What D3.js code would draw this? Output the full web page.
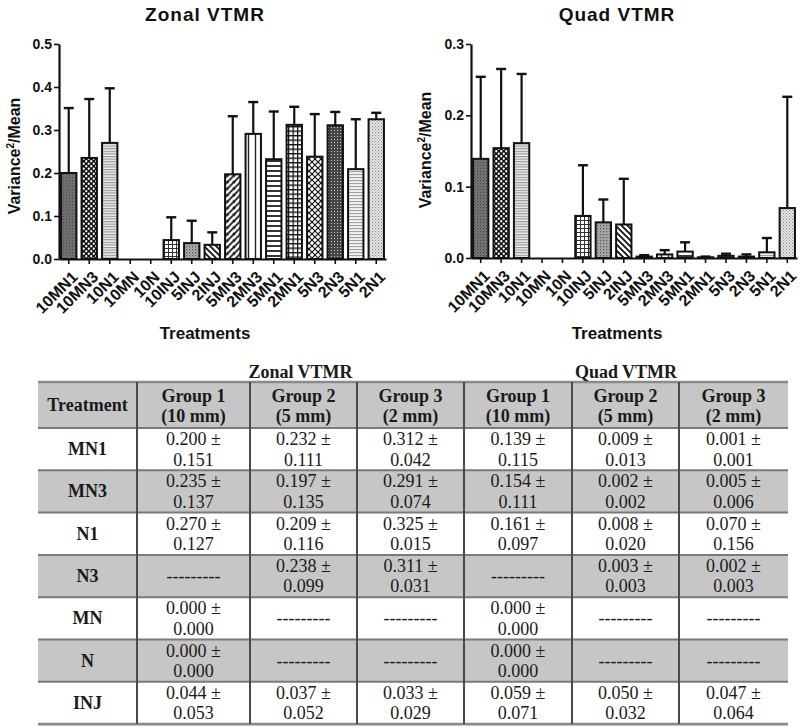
<!DOCTYPE html>
<html><head><meta charset="utf-8">
<script src="https://cdn.jsdelivr.net/npm/d3@7"></script>
<style>
html,body{margin:0;padding:0;background:#fff;}
svg{display:block;}
</style>
</head><body>
<svg id="c" width="800" height="728"></svg>
<script>
// ---------- DATA ----------
const categories = ["10MN1","10MN3","10N1","10MN","10N","10INJ","5INJ","2INJ","5MN3","2MN3","5MN1","2MN1","5N3","2N3","5N1","2N1"];
const zonalMean = [0.200,0.235,0.270,0.000,0.000,0.044,0.037,0.033,0.197,0.291,0.232,0.312,0.238,0.311,0.209,0.325];
const zonalSD   = [0.151,0.137,0.127,0.000,0.000,0.053,0.052,0.029,0.135,0.074,0.111,0.042,0.099,0.031,0.116,0.015];
const quadMean  = [0.139,0.154,0.161,0.000,0.000,0.059,0.050,0.047,0.002,0.005,0.009,0.001,0.003,0.002,0.008,0.070];
const quadSD    = [0.115,0.111,0.097,0.000,0.000,0.071,0.032,0.064,0.002,0.006,0.013,0.001,0.003,0.003,0.020,0.156];
const zonalTicks = [0.0,0.1,0.2,0.3,0.4,0.5];
const quadTicks  = [0.0,0.1,0.2,0.3];

const tableTreatments = ["MN1","MN3","N1","N3","MN","N","INJ"];
const tableGroups = [["Group 1","(10 mm)"],["Group 2","(5 mm)"],["Group 3","(2 mm)"]];
const zonalG1 = [["0.200","0.151"],["0.235","0.137"],["0.270","0.127"],null,["0.000","0.000"],["0.000","0.000"],["0.044","0.053"]];
const zonalG2 = [["0.232","0.111"],["0.197","0.135"],["0.209","0.116"],["0.238","0.099"],null,null,["0.037","0.052"]];
const zonalG3 = [["0.312","0.042"],["0.291","0.074"],["0.325","0.015"],["0.311","0.031"],null,null,["0.033","0.029"]];
const quadG1  = [["0.139","0.115"],["0.154","0.111"],["0.161","0.097"],null,["0.000","0.000"],["0.000","0.000"],["0.059","0.071"]];
const quadG2  = [["0.009","0.013"],["0.002","0.002"],["0.008","0.020"],["0.003","0.003"],null,null,["0.050","0.032"]];
const quadG3  = [["0.001","0.001"],["0.005","0.006"],["0.070","0.156"],["0.002","0.003"],null,null,["0.047","0.064"]];

// ---------- STYLE ----------
const patternFor = ["pDark","pChecker","pHLight","pNone","pNone","pGridSmall","pMottle","pDiagBack","pDiagFwd","pVert","pHBlack","pGrid","pDiamond","pDarkDots","pHLight2","pLightDots"];
const sans = "'Liberation Sans', Arial, sans-serif";
const serif = "'Liberation Serif', 'Times New Roman', serif";
const ink = "#111";

const svg = d3.select("#c");
const defs = svg.append("defs");

function pat(id, w, h, build){
  const p = defs.append("pattern").attr("id", id).attr("patternUnits","userSpaceOnUse").attr("width", w).attr("height", h);
  build(p);
}
pat("pNone",4,4,p=>p.append("rect").attr("width",4).attr("height",4).attr("fill","#fff"));
pat("pDark",3,3,p=>{p.append("rect").attr("width",3).attr("height",3).attr("fill","#7a7a7a");
  p.append("rect").attr("x",0).attr("y",0).attr("width",1.2).attr("height",1.2).attr("fill","#444");
  p.append("rect").attr("x",1.5).attr("y",1.5).attr("width",1.2).attr("height",1.2).attr("fill","#555");});
pat("pChecker",5,5,p=>{p.append("rect").attr("width",5).attr("height",5).attr("fill","#111");
  p.append("circle").attr("cx",1.25).attr("cy",1.25).attr("r",1.15).attr("fill","#fff");
  p.append("circle").attr("cx",3.75).attr("cy",3.75).attr("r",1.15).attr("fill","#fff");});
pat("pHLight",4,2.6,p=>{p.append("rect").attr("width",4).attr("height",2.6).attr("fill","#eee");
  p.append("line").attr("x1",0).attr("x2",4).attr("y1",0.6).attr("y2",0.6).attr("stroke","#888").attr("stroke-width",1);});
pat("pHLight2",4,3,p=>{p.append("rect").attr("width",4).attr("height",3).attr("fill","#f2f2f2");
  p.append("line").attr("x1",0).attr("x2",4).attr("y1",0.6).attr("y2",0.6).attr("stroke","#999").attr("stroke-width",1);});
pat("pGridSmall",4,4,p=>{p.append("rect").attr("width",4).attr("height",4).attr("fill","#fff");
  p.append("path").attr("d","M0,0.5H4M0.5,0V4").attr("stroke","#333").attr("stroke-width",1);});
pat("pMottle",3,3,p=>{p.append("rect").attr("width",3).attr("height",3).attr("fill","#b0b0b0");
  p.append("rect").attr("x",0).attr("y",0).attr("width",1.3).attr("height",1.3).attr("fill","#555");
  p.append("rect").attr("x",1.6).attr("y",1.6).attr("width",1).attr("height",1).attr("fill","#777");});
pat("pDiagBack",6,6,p=>{p.append("rect").attr("width",6).attr("height",6).attr("fill","#fff");
  p.append("path").attr("d","M-1,-1L7,7M-1,5L1,7M5,-1L7,1").attr("stroke","#111").attr("stroke-width",1.8);});
pat("pDiagFwd",6.5,6.5,p=>{p.append("rect").attr("width",6.5).attr("height",6.5).attr("fill","#fff");
  p.append("path").attr("d","M-1,7.5L7.5,-1M-1,1.5L1.5,-1M5,7.5L7.5,5").attr("stroke","#111").attr("stroke-width",1.8);});
pat("pVert",7,4,p=>{p.append("rect").attr("width",7).attr("height",4).attr("fill","#fff");
  p.append("line").attr("x1",3.5).attr("x2",3.5).attr("y1",0).attr("y2",4).attr("stroke","#222").attr("stroke-width",1.4);});
pat("pHBlack",4,5,p=>{p.append("rect").attr("width",4).attr("height",5).attr("fill","#fff");
  p.append("line").attr("x1",0).attr("x2",4).attr("y1",1).attr("y2",1).attr("stroke","#111").attr("stroke-width",1.7);});
pat("pGrid",4.5,4.5,p=>{p.append("rect").attr("width",4.5).attr("height",4.5).attr("fill","#fff");
  p.append("path").attr("d","M0,0.6H4.5M0.6,0V4.5").attr("stroke","#111").attr("stroke-width",1.3);});
pat("pDiamond",6,6,p=>{p.append("rect").attr("width",6).attr("height",6).attr("fill","#fff");
  p.append("path").attr("d","M-1,-1L7,7M-1,7L7,-1").attr("stroke","#111").attr("stroke-width",1.2);});
pat("pDarkDots",3,3,p=>{p.append("rect").attr("width",3).attr("height",3).attr("fill","#444");
  p.append("rect").attr("x",1).attr("y",1).attr("width",1).attr("height",1).attr("fill","#ccc");});
pat("pLightDots",3,3,p=>{p.append("rect").attr("width",3).attr("height",3).attr("fill","#e4e4e4");
  p.append("rect").attr("x",0).attr("y",0).attr("width",1).attr("height",1).attr("fill","#888");
  p.append("rect").attr("x",1.5).attr("y",1.5).attr("width",1).attr("height",1).attr("fill","#999");});

// ---------- BAR CHARTS ----------
function barChart(o){
  const g = svg.append("g");
  const x = d3.scaleBand().domain(categories).range([o.x0, o.x1]).paddingInner(0.25).paddingOuter(0.1);
  const y = d3.scaleLinear().domain([0, o.ymax]).range([o.yb, o.yt]);

  g.selectAll("rect.bar").data(categories).join("rect")
    .attr("class","bar")
    .attr("x", d=>x(d)).attr("width", x.bandwidth())
    .attr("y", (d,i)=>y(o.mean[i])).attr("height",(d,i)=>y(0)-y(o.mean[i]))
    .attr("fill",(d,i)=>"url(#"+patternFor[i]+")")
    .attr("stroke", ink).attr("stroke-width",2)
    .attr("display",(d,i)=>o.mean[i] > 0 ? null : "none");

  const eb = g.selectAll("g.err").data(categories).join("g").attr("class","err")
    .attr("display",(d,i)=>o.sd[i] > 0 ? null : "none");
  eb.append("line")
    .attr("x1",d=>x(d)+x.bandwidth()/2).attr("x2",d=>x(d)+x.bandwidth()/2)
    .attr("y1",(d,i)=>y(o.mean[i])).attr("y2",(d,i)=>y(o.mean[i]+o.sd[i]))
    .attr("stroke",ink).attr("stroke-width",2.2);
  eb.append("line")
    .attr("x1",d=>x(d)+x.bandwidth()/2-5).attr("x2",d=>x(d)+x.bandwidth()/2+5)
    .attr("y1",(d,i)=>y(o.mean[i]+o.sd[i])).attr("y2",(d,i)=>y(o.mean[i]+o.sd[i]))
    .attr("stroke",ink).attr("stroke-width",2.4);

  const ya = g.append("g").attr("transform",`translate(${o.x0},0)`)
    .call(d3.axisLeft(y).tickValues(o.ticks).tickFormat(d3.format(".1f")).tickSize(5).tickSizeOuter(0).tickPadding(2));
  const xa = g.append("g").attr("transform",`translate(0,${o.yb})`)
    .call(d3.axisBottom(x).tickSize(5).tickSizeOuter(0).tickPadding(2));
  [ya, xa].forEach(a=>{
    a.attr("font-family",null).attr("font-size",null);
    a.select(".domain").attr("stroke",ink).attr("stroke-width",2.2);
    a.selectAll(".tick line").attr("stroke",ink).attr("stroke-width",1.6);
    a.selectAll("text").attr("fill",ink).style("font-family",sans).style("font-weight","bold");
  });
  ya.selectAll("text").style("font-size","14px");
  xa.selectAll("text").style("font-size","16px")
    .attr("text-anchor","end").attr("dy","0.35em")
    .attr("transform","translate(6,15) rotate(-45)")
    .attr("x",0).attr("y",0);

  svg.append("text").attr("x",o.titleX).attr("y",21).attr("text-anchor","middle")
    .style("font-family",sans).style("font-weight","bold").style("font-size","19px")
    .style("letter-spacing","1px").attr("fill",ink).text(o.title);
  svg.append("text").attr("x",o.titleX).attr("y",339).attr("text-anchor","middle")
    .style("font-family",sans).style("font-weight","bold").style("font-size","17px")
    .attr("fill",ink).text("Treatments");
  const yl = svg.append("text").attr("transform",`translate(${o.ylabX},${o.ylabY}) rotate(-90)`)
    .attr("text-anchor","middle").style("font-family",sans).style("font-weight","bold").style("font-size","16px").attr("fill",ink);
  yl.append("tspan").text("Variance");
  yl.append("tspan").attr("dy","-6").style("font-size","10px").text("2");
  yl.append("tspan").attr("dy","6").text("/Mean");
}

barChart({x0:59, x1:386, yb:259, yt:44, ymax:0.5, ticks:zonalTicks, mean:zonalMean, sd:zonalSD,
  title:"Zonal VTMR", titleX:205, ylabX:20, ylabY:156});
barChart({x0:471, x1:797, yb:258, yt:44, ymax:0.3, ticks:quadTicks, mean:quadMean, sd:quadSD,
  title:"Quad VTMR", titleX:617, ylabX:431, ylabY:150});

// ---------- TABLE ----------
const colWidths = [99,113,107,107,108,107,109];
const colX = [38];
colWidths.forEach(w=>colX.push(colX[colX.length-1]+w));
const tTop = 382, headH = 46, rowH = 42.3;
const rowY = tableTreatments.map((d,i)=>tTop+headH+i*rowH);
const tBottom = tTop+headH+tableTreatments.length*rowH;
const tg = svg.append("g");
const gray = "#c6c6c6";

tg.append("rect").attr("x",colX[0]).attr("y",tTop).attr("width",colX[7]-colX[0]).attr("height",headH).attr("fill",gray);
tableTreatments.forEach((t,i)=>{
  if(i%2===1) tg.append("rect").attr("x",colX[0]).attr("y",rowY[i]).attr("width",colX[7]-colX[0]).attr("height",rowH).attr("fill",gray);
});
[tTop].concat(rowY).concat([tBottom]).forEach((yy,i,arr)=>{
  tg.append("line").attr("x1",colX[0]).attr("x2",colX[7]).attr("y1",yy).attr("y2",yy)
    .attr("stroke", (i===0||i===arr.length-1) ? "#8a8a8a" : "#7a7a7a").attr("stroke-width", (i===0||i===arr.length-1)?2.6:2);
});
colX.slice(1,7).forEach(xx=>{
  tg.append("line").attr("x1",xx).attr("x2",xx).attr("y1",tTop).attr("y2",tBottom).attr("stroke","#4a4a4a").attr("stroke-width",2);
});

function cellText(cx, yy, str, bold){
  tg.append("text").attr("x",cx).attr("y",yy).attr("text-anchor","middle")
    .style("font-family",serif).style("font-size","18px").style("font-weight",bold?"bold":"normal")
    .attr("fill","#1a1a1a").text(str);
}
cellText((colX[1]+colX[4])/2, 378, "Zonal VTMR", true);
cellText((colX[4]+colX[7])/2, 378, "Quad VTMR", true);
cellText((colX[0]+colX[1])/2, tTop+29, "Treatment", true);
for(let k=0;k<6;k++){
  const cx=(colX[k+1]+colX[k+2])/2, gr=tableGroups[k%3];
  cellText(cx, tTop+20, gr[0], true);
  cellText(cx, tTop+40, gr[1], true);
}
const tableCols = [zonalG1,zonalG2,zonalG3,quadG1,quadG2,quadG3];
tableTreatments.forEach((t,i)=>{
  const top=rowY[i];
  cellText((colX[0]+colX[1])/2, top+27, t, true);
  tableCols.forEach((col,k)=>{
    const cx=(colX[k+1]+colX[k+2])/2, v=col[i];
    if(v){
      cellText(cx, top+17, v[0]+" ±", false);
      cellText(cx, top+37.5, v[1], false);
    } else {
      cellText(cx, top+27, "---------", false);
    }
  });
});
</script>
</body></html>
